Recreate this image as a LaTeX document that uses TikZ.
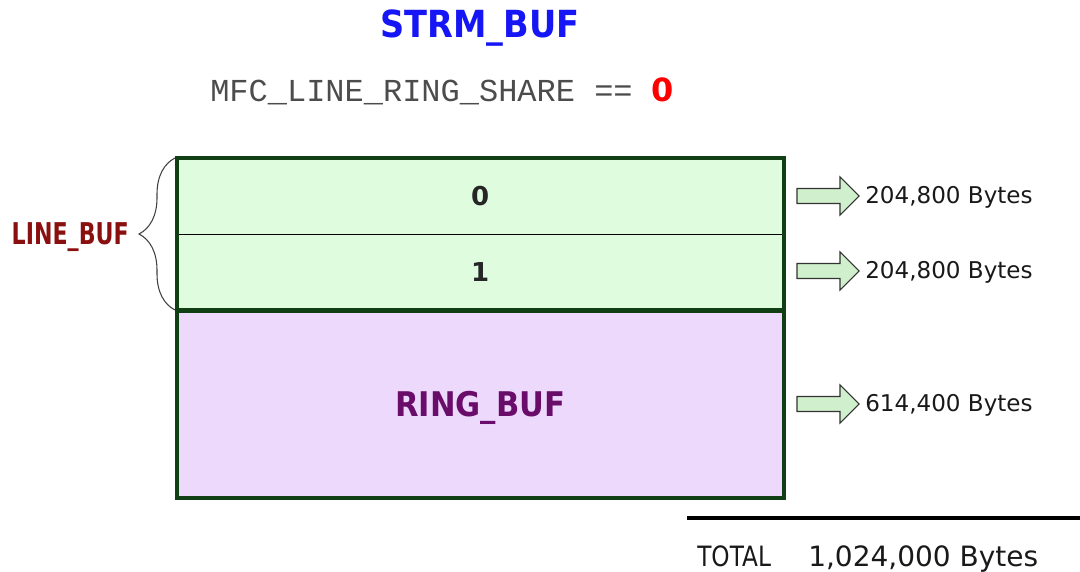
\documentclass[tikz,border=0pt]{standalone}
\usepackage{fontspec}
\setmainfont{DejaVu Sans}
\newfontfamily\condbold{DejaVu Sans Condensed}
\newfontfamily\monofont{Liberation Mono}
\usetikzlibrary{decorations.pathreplacing}
\definecolor{frame}{HTML}{0F3F12}
\definecolor{linefill}{HTML}{E0FCDF}
\definecolor{ringfill}{HTML}{ECD9FB}
\definecolor{ringtext}{HTML}{6A0C6A}
\definecolor{linetext}{HTML}{8A1010}
\definecolor{titleblue}{HTML}{1515F5}
\definecolor{arrowfill}{HTML}{D0EFCC}
\tikzset{
  bytes/.style={anchor=base west, inner sep=0pt, font=\fontsize{17.3}{20}\selectfont, text=black!90},
  blockarrow/.style={draw=black!80, line width=0.8pt, fill=arrowfill, line join=miter},
  slotlabel/.style={inner sep=0pt, font=\fontsize{19.5}{22}\selectfont\bfseries, text=black!85},
  bufbox/.style={draw=none, minimum width=454.5pt, anchor=north west, inner sep=0pt},
}
\begin{document}
\begin{tikzpicture}[x=0.75pt, y=-0.75pt]
\useasboundingbox (0,0) rectangle (1080,571);

% title and condition
\node (title) at (480,28) [inner sep=0pt, text=titleblue, font=\fontsize{28}{32}\selectfont\condbold\bfseries] {STRM\_BUF};
\node (cond) at (210,101) [anchor=base west, inner sep=0pt, text=black!70, font=\fontsize{24}{28}\selectfont\monofont] {MFC\_LINE\_RING\_SHARE == \textcolor{red}{\fontspec{DejaVu Sans}\bfseries 0}};

% buffer blocks
\node (line0) [bufbox, fill=linefill, minimum height=57pt] at (177,158) {};
\node (line1) [bufbox, fill=linefill, minimum height=57pt] at (177,234) {};
\node (ring) [bufbox, fill=ringfill, minimum height=140.25pt] at (177,310) {};
\draw[black, line width=0.9pt] (line0.south west) -- (line0.south east);
\draw[frame, line width=3pt] (line0.north west) rectangle (line1.south east);
\draw[frame, line width=3pt] (ring.north west) rectangle (ring.south east);

\node (l0txt) [slotlabel] at (line0.center) {0};
\node (l1txt) [slotlabel] at (line1.center) {1};
\node (rtxt) [inner sep=0pt, text=ringtext, font=\fontsize{25.5}{30}\selectfont\condbold\bfseries, yshift=-3pt] at (ring.center) {RING\_BUF};

% brace grouping the line buffers
\coordinate (bb) at (175,310);
\coordinate (bt) at (175,158);
\draw[black!75, line width=0.8pt, decorate, decoration={brace, amplitude=27pt}] (bb) -- (bt);
\node (lbuf) [anchor=east, inner sep=0pt, text=linetext, font=\fontsize{22.5}{26}\selectfont\condbold\bfseries] at (129,237) {\scalebox{0.82}[1]{LINE\_BUF}};

% size arrows and labels
\foreach \yc/\nm/\txt in {196/a0/{204,800 Bytes}, 271/a1/{204,800 Bytes}, 404/a2/{614,400 Bytes}}{
  \draw[blockarrow] (797,\yc-7.5) -- (840,\yc-7.5) -- (840,\yc-19) -- (859,\yc) -- (840,\yc+19) -- (840,\yc+7.5) -- (797,\yc+7.5) -- cycle;
  \node (\nm) [bytes] at (865,\yc+7.5) {\txt};
}

% total
\coordinate (tl) at (687,518);
\coordinate (tr) at (1080,518);
\draw[black, line width=3pt] (tl) -- (tr);
\node (total) [anchor=base west, inner sep=0pt, font=\fontsize{21}{24}\selectfont, text=black!90] at (697,566) {\scalebox{0.83}[1]{TOTAL}};
\node (totalval) [anchor=base west, inner sep=0pt, font=\fontsize{21}{24}\selectfont, text=black!90] at (808,566) {1,024,000 Bytes};
\end{tikzpicture}
\end{document}
